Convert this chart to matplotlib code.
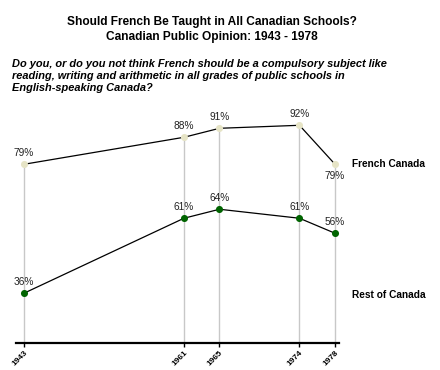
import matplotlib
matplotlib.use("Agg")
import matplotlib.pyplot as plt

years = [1943, 1961, 1965, 1974, 1978]
french = [79, 88, 91, 92, 79]
rest = [36, 61, 64, 61, 56]
year_labels = ["1943", "1961", "1965", "1974", "1978"]

plt.rcParams["font.family"] = ["Liberation Sans", "DejaVu Sans"]

fig = plt.figure(figsize=(4.4, 3.7), dpi=100)
ax = fig.add_axes([16 / 440, 1 - 342.7 / 370, 323 / 440, 241.4 / 370])
ax.set_xlim(1942.1, 1978.45)
ax.set_ylim(19.5, 100)

# drop lines from the top point to the axis
for x, f in zip(years, french):
    ax.plot([x, x], [19.5, f], color="#c8c8c8", lw=1, zorder=1)

ax.plot(years, french, color="black", lw=0.9, zorder=2)
ax.plot(years, rest, color="black", lw=0.9, zorder=2)
ax.scatter(years, french, s=26, color="#e6e4c6", zorder=3, linewidths=0)
ax.scatter(years, rest, s=26, color="#006400", zorder=3, linewidths=0)

for i, (x, v) in enumerate(zip(years, french)):
    if i == len(years) - 1:
        ax.annotate(f"{v}%", (x, v), xytext=(0, -5), textcoords="offset points",
                    ha="center", va="top", fontsize=7.3, color="#222222")
    else:
        ax.annotate(f"{v}%", (x, v), xytext=(0, 4.5), textcoords="offset points",
                    ha="center", va="bottom", fontsize=7.3, color="#222222")
for x, v in zip(years, rest):
    ax.annotate(f"{v}%", (x, v), xytext=(0, 4.5), textcoords="offset points",
                ha="center", va="bottom", fontsize=7.3, color="#222222")

for s in ["top", "right", "left"]:
    ax.spines[s].set_visible(False)
ax.spines["bottom"].set_linewidth(1.6)
ax.set_yticks([])
ax.set_xticks(years)
ax.set_xticklabels(year_labels, rotation=45, ha="right", va="top",
                   rotation_mode="anchor", fontsize=6, fontweight="bold")
ax.tick_params(axis="x", length=3, width=1, pad=1.5)

ax.text(1.04, (french[-1] - 19.5) / 80.5, "French Canada", transform=ax.transAxes,
        fontsize=7.3, fontweight="bold", va="center", ha="left")
ax.text(1.04, (35.5 - 19.5) / 80.5, "Rest of Canada", transform=ax.transAxes,
        fontsize=7.3, fontweight="bold", va="center", ha="left")

fig.text(212 / 440, 1 - 29.5 / 370, "Should French Be Taught in All Canadian Schools?\nCanadian Public Opinion: 1943 - 1978",
         ha="center", va="center", fontsize=8.6, fontweight="bold", linespacing=1.4)
fig.text(12 / 440, 1 - 76 / 370,
         "Do you, or do you not think French should be a compulsory subject like\n"
         "reading, writing and arithmetic in all grades of public schools in\n"
         "English-speaking Canada?",
         ha="left", va="center", fontsize=7.9, fontweight="bold", style="italic", linespacing=1.3)

fig.savefig("out.png", dpi=100)
